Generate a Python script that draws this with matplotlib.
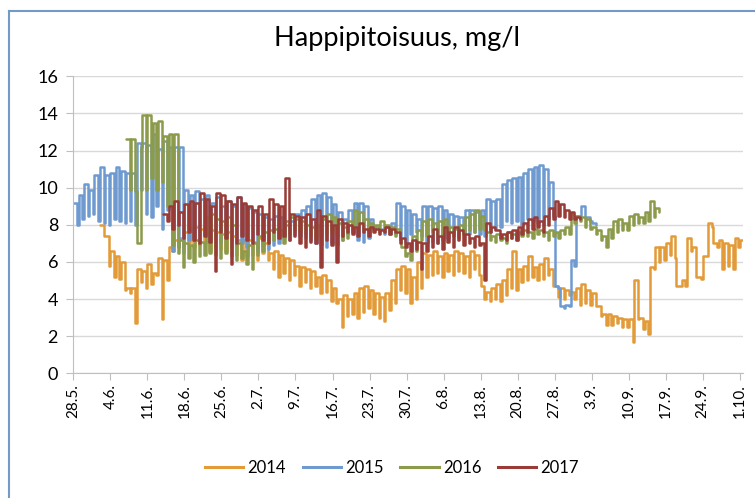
import numpy as np
import matplotlib
matplotlib.use('Agg')
import matplotlib.pyplot as plt
from matplotlib.lines import Line2D

plt.rcParams['font.family'] = ['Lato', 'DejaVu Sans']

# tick labels (every 7 days from 28.5.)
tick_labels = ['28.5.', '4.6.', '11.6.', '18.6.', '25.6.', '2.7.', '9.7.', '16.7.', '23.7.',
               '30.7.', '6.8.', '13.8.', '20.8.', '27.8.', '3.9.', '10.9.', '17.9.', '24.9.', '1.10.']

# daily values: high and low part of each day, start = days after 28.5.
start_2014 = 5
hi_2014 = [8.0, 7.4, 6.6, 6.3, 6.0, 4.6, 4.6, 5.6, 5.5, 5.9, 5.4, 6.2, 6.1, 6.8, 7.2, 7.3,
           7.6, 7.9, 7.9, 7.8, 7.9, 7.7, 7.6, 7.5, 7.6, 7.4, 7.2, 7.2, 7.2, 7.1, 7.3, 7.0,
           6.5, 6.6, 6.4, 6.2, 6.1, 5.8, 5.7, 5.6, 5.5, 5.2, 5.3, 5.0, 4.6, 4.0, 4.2, 4.0,
           4.3, 4.6, 4.7, 4.5, 4.3, 4.1, 4.3, 5.0, 5.6, 5.8, 5.6, 5.2, 6.0, 6.5, 6.4, 6.6,
           6.3, 6.5, 6.4, 6.6, 6.5, 6.3, 6.6, 6.4, 4.7, 4.4, 4.6, 4.8, 5.0, 5.6, 6.6, 5.6,
           5.8, 6.3, 5.7, 5.9, 6.2, 5.6, 4.7, 4.6, 4.5, 4.4, 4.6, 4.8, 4.5, 4.3, 3.6, 3.2,
           3.2, 3.1, 3.0, 2.9, 2.9, 5.0, 3.0, 2.8, 5.7, 6.8, 6.8, 7.0, 7.4, 4.7, 5.0, 7.3,
           6.8, 5.2, 6.3, 8.1, 7.0, 7.2, 7.0, 6.9, 7.3, 7.2]
lo_2014 = [7.4, 5.8, 5.2, 5.1, 4.5, 4.3, 2.7, 4.9, 4.6, 4.8, 5.3, 2.9, 5.0, 6.6, 6.8, 6.9,
           7.0, 6.8, 6.9, 7.0, 6.6, 6.8, 6.7, 6.6, 6.8, 6.4, 6.1, 6.3, 6.4, 6.1, 6.5, 6.1,
           5.6, 5.2, 5.4, 5.0, 5.3, 4.7, 4.9, 4.6, 4.7, 4.3, 4.4, 3.9, 3.8, 2.5, 3.1, 3.2,
           3.0, 3.3, 3.5, 3.2, 3.0, 2.8, 3.4, 3.8, 4.5, 4.3, 3.8, 4.0, 4.6, 5.2, 5.3, 5.4,
           5.2, 5.5, 5.3, 5.5, 5.4, 5.2, 5.6, 5.3, 4.0, 3.9, 4.0, 3.9, 4.2, 4.6, 4.5, 4.9,
           5.0, 5.2, 5.0, 5.1, 5.3, 4.7, 4.1, 4.0, 4.2, 4.0, 3.7, 3.8, 3.7, 3.6, 3.1, 2.6,
           2.6, 2.7, 2.5, 2.5, 1.7, 2.9, 2.4, 2.1, 5.6, 6.0, 6.1, 6.4, 6.2, 4.7, 4.7, 6.6,
           5.2, 5.1, 6.3, 7.9, 6.8, 5.6, 5.8, 5.6, 6.8, 7.1]

start_2015 = 0
hi_2015 = [9.2, 9.6, 10.2, 9.9, 10.7, 11.1, 10.7, 10.8, 11.1, 10.9, 10.8, 10.8, 12.4, 12.4,
           12.3, 12.9, 12.1, 12.5, 12.2, 12.2, 12.2, 9.9, 9.6, 9.8, 9.4, 9.6, 9.2, 9.5, 9.0,
           9.3, 9.0, 9.5, 9.1, 8.9, 8.7, 8.6, 8.4, 8.3, 8.5, 8.4, 8.0, 8.2, 8.6, 8.8, 9.0,
           9.4, 9.6, 9.7, 9.5, 9.1, 8.7, 8.3, 8.8, 9.2, 9.2, 9.0, 8.3, 7.9, 7.8, 7.9, 8.1,
           9.2, 9.0, 8.8, 8.6, 8.3, 9.0, 9.0, 8.9, 9.0, 8.8, 8.6, 8.5, 8.4, 8.8, 8.8, 8.7,
           8.8, 9.4, 9.3, 9.4, 10.2, 10.4, 10.5, 10.6, 10.8, 11.0, 11.1, 11.2, 11.0, 10.3,
           4.7, 3.6, 3.7, 6.1, 8.5, 9.0, 8.4, 8.1]
lo_2015 = [8.0, 8.3, 8.5, 8.6, 8.2, 8.1, 8.0, 8.3, 8.2, 8.1, 8.2, 8.0, 9.9, 8.6,
           8.4, 9.0, 7.8, 8.8, 6.6, 6.8, 6.5, 7.2, 7.3, 7.0, 7.5, 7.1, 7.3, 7.0, 7.4,
           7.2, 6.9, 7.0, 6.8, 7.1, 6.6, 6.9, 6.7, 6.9, 7.0, 7.3, 7.2, 7.5, 7.4, 7.3, 7.2,
           7.0, 6.9, 6.8, 7.0, 6.9, 7.2, 7.5, 7.6, 7.2, 7.1, 7.3, 7.8, 7.6, 7.5, 7.6, 7.5,
           7.4, 7.1, 7.5, 7.6, 7.4, 7.0, 7.1, 7.0, 7.2, 7.3, 7.5, 7.4, 7.6, 7.5, 7.6, 7.5,
           7.4, 7.6, 7.8, 7.9, 8.2, 8.1, 8.2, 8.0, 8.3, 8.2, 8.1, 8.0, 8.3, 8.5,
           4.6, 3.5, 3.6, 5.8, 8.3, 8.4, 8.2, 8.0]

start_2016 = 10
hi_2016 = [12.6, 12.6, 7.0, 13.9, 13.9, 13.5, 13.6, 12.8, 12.9, 12.9, 7.2, 7.0, 6.9, 7.2,
           7.1, 8.4, 8.6, 8.3, 8.2, 8.4, 8.0, 7.0, 6.6, 6.9, 7.0, 7.4, 7.6, 7.7, 7.8, 7.7,
           8.2, 8.4, 8.3, 8.2, 8.0, 7.9, 8.0, 8.3, 8.6, 8.4, 8.1, 7.9, 8.2, 8.8, 8.7, 8.3,
           8.1, 8.0, 8.2, 8.0, 7.9, 7.8, 6.8, 6.5, 7.4, 7.7, 8.2, 8.3, 8.1, 8.2, 8.3, 7.9,
           7.8, 8.0, 8.4, 8.6, 8.8, 8.5, 7.6, 7.4, 7.5, 7.3, 7.6, 7.5, 7.6, 7.7, 7.6, 7.8,
           7.7, 7.6, 7.7, 7.6, 7.7, 7.9, 8.6, 8.5, 8.4, 8.3, 7.9, 7.7, 7.4, 7.8, 8.2, 8.3,
           8.1, 8.5, 8.6, 8.4, 8.7, 9.3, 8.9]
lo_2016 = [9.9, 9.8, 12.2, 9.9, 10.5, 9.9, 10.3, 9.0, 6.9, 6.5, 5.7, 6.2, 6.0, 6.3,
           6.4, 6.5, 6.4, 6.2, 6.5, 6.3, 6.1, 6.2, 5.9, 5.6, 6.4, 6.6, 7.0, 7.2, 7.3, 7.0,
           7.5, 7.7, 7.6, 7.5, 7.4, 7.3, 7.4, 7.5, 7.6, 7.4, 7.2, 7.3, 7.6, 8.0, 7.8, 7.6,
           7.7, 7.6, 7.8, 7.5, 7.4, 7.2, 6.3, 6.1, 6.6, 7.2, 7.4, 7.6, 7.5, 7.3, 7.6, 7.4,
           7.3, 7.5, 7.7, 7.6, 7.8, 7.7, 7.2, 7.1, 7.2, 7.0, 7.3, 7.2, 7.4, 7.4, 7.3, 7.5,
           7.4, 7.2, 7.4, 7.3, 7.5, 7.5, 8.1, 8.2, 7.9, 7.8, 7.5, 7.2, 6.8, 7.3, 7.6, 7.7,
           7.7, 8.0, 8.1, 8.1, 8.2, 8.4, 8.7]

start_2017 = 17
hi_2017 = [8.6, 9.0, 9.3, 8.7, 9.1, 9.3, 9.2, 9.7, 9.4, 9.0, 9.7, 9.6, 9.3, 9.1, 9.5, 9.2,
           9.0, 8.8, 9.0, 8.6, 9.4, 9.1, 9.0, 10.5, 8.6, 8.5, 8.4, 8.6, 8.3, 8.8, 8.5, 8.2,
           8.0, 8.3, 8.1, 8.0, 7.9, 8.1, 7.8, 7.9, 7.8, 7.7, 7.9, 7.8, 7.6, 7.3, 7.0, 7.2,
           7.1, 7.0, 7.4, 7.8, 7.4, 7.9, 7.6, 7.9, 7.7, 7.5, 7.3, 7.4, 7.0, 8.1, 7.9, 7.7,
           7.5, 7.6, 7.7, 7.9, 8.1, 8.3, 8.4, 8.2, 8.5, 8.9, 9.3, 9.1, 8.8, 8.7, 8.4]
lo_2017 = [8.2, 7.8, 8.0, 7.3, 7.6, 7.2, 7.0, 7.4, 7.1, 5.5, 7.6, 7.3, 5.9, 7.0, 7.4, 7.2,
           7.0, 7.5, 7.2, 7.0, 7.6, 7.3, 7.4, 7.2, 7.4, 7.0, 6.8, 7.1, 7.0, 5.7, 7.2, 6.9,
           6.0, 7.4, 7.6, 7.5, 7.4, 7.6, 7.4, 7.6, 7.5, 7.6, 7.5, 7.6, 7.0, 6.8, 6.6, 6.7,
           5.6, 6.6, 6.8, 7.0, 6.7, 7.1, 6.8, 7.2, 6.9, 7.0, 6.8, 6.9, 5.0, 7.6, 7.7, 7.3,
           7.2, 7.3, 7.2, 7.5, 7.6, 7.8, 7.9, 7.6, 8.0, 8.3, 8.5, 8.4, 8.3, 8.3, 8.3]

series = [('2014', start_2014, hi_2014, lo_2014, '#E29B38'),
          ('2015', start_2015, hi_2015, lo_2015, '#6F9AD0'),
          ('2016', start_2016, hi_2016, lo_2016, '#8C9A4C'),
          ('2017', start_2017, hi_2017, lo_2017, '#993C37')]

fig = plt.figure(figsize=(7.55, 4.98), dpi=100)
ax = fig.add_axes([73.3 / 755, 1 - 373.3 / 498, (743 - 73.3) / 755, (373.3 - 76.3) / 498])

for name, start, hi, lo, col in series:
    # each day: long part at hi, short dip to lo
    n = len(hi)
    xs = np.empty(2 * n)
    xs[0::2] = start + np.arange(n)
    xs[1::2] = start + np.arange(n) + 0.72
    ys = np.empty(2 * n)
    ys[0::2] = hi
    ys[1::2] = lo
    ax.plot(xs, ys, drawstyle='steps-post', color=col, lw=1.8,
            solid_joinstyle='round', solid_capstyle='round', label=name)

ax.set_ylim(0, 16)
ax.set_xlim(0, 126.6)
ax.set_yticks(range(0, 17, 2))
ax.set_xticks(np.arange(len(tick_labels)) * 7)
ax.set_xticklabels(tick_labels, rotation=90, fontsize=11)
ax.tick_params(axis='y', labelsize=13, length=5, color='#BFBFBF', pad=6)
ax.tick_params(axis='x', length=5, color='#BFBFBF', pad=3)
ax.grid(axis='y', color='#D9D9D9', lw=1)
ax.set_axisbelow(True)
for s in ['top', 'right']:
    ax.spines[s].set_visible(False)
for s in ['left', 'bottom']:
    ax.spines[s].set_color('#BFBFBF')

fig.text(397 / 755, 1 - 38 / 498, 'Happipitoisuus, mg/l', ha='center', va='center', fontsize=19.5)

handles = [Line2D([], [], color=c, lw=2.2) for _, _, _, _, c in series]
fig.legend(handles, [s[0] for s in series], loc='center', bbox_to_anchor=(392 / 755, 1 - 468 / 498),
           ncol=4, frameon=False, fontsize=12, handlelength=2.3, handletextpad=0.25, columnspacing=1.0)

# chart border (left and top visible)
fig.add_artist(Line2D([9 / 755, 9 / 755], [0, 1 - 11 / 498], color='#7399C6', lw=1.5))
fig.add_artist(Line2D([9 / 755, 1], [1 - 11 / 498, 1 - 11 / 498], color='#7399C6', lw=1.5))

fig.savefig('out.png', dpi=100)
